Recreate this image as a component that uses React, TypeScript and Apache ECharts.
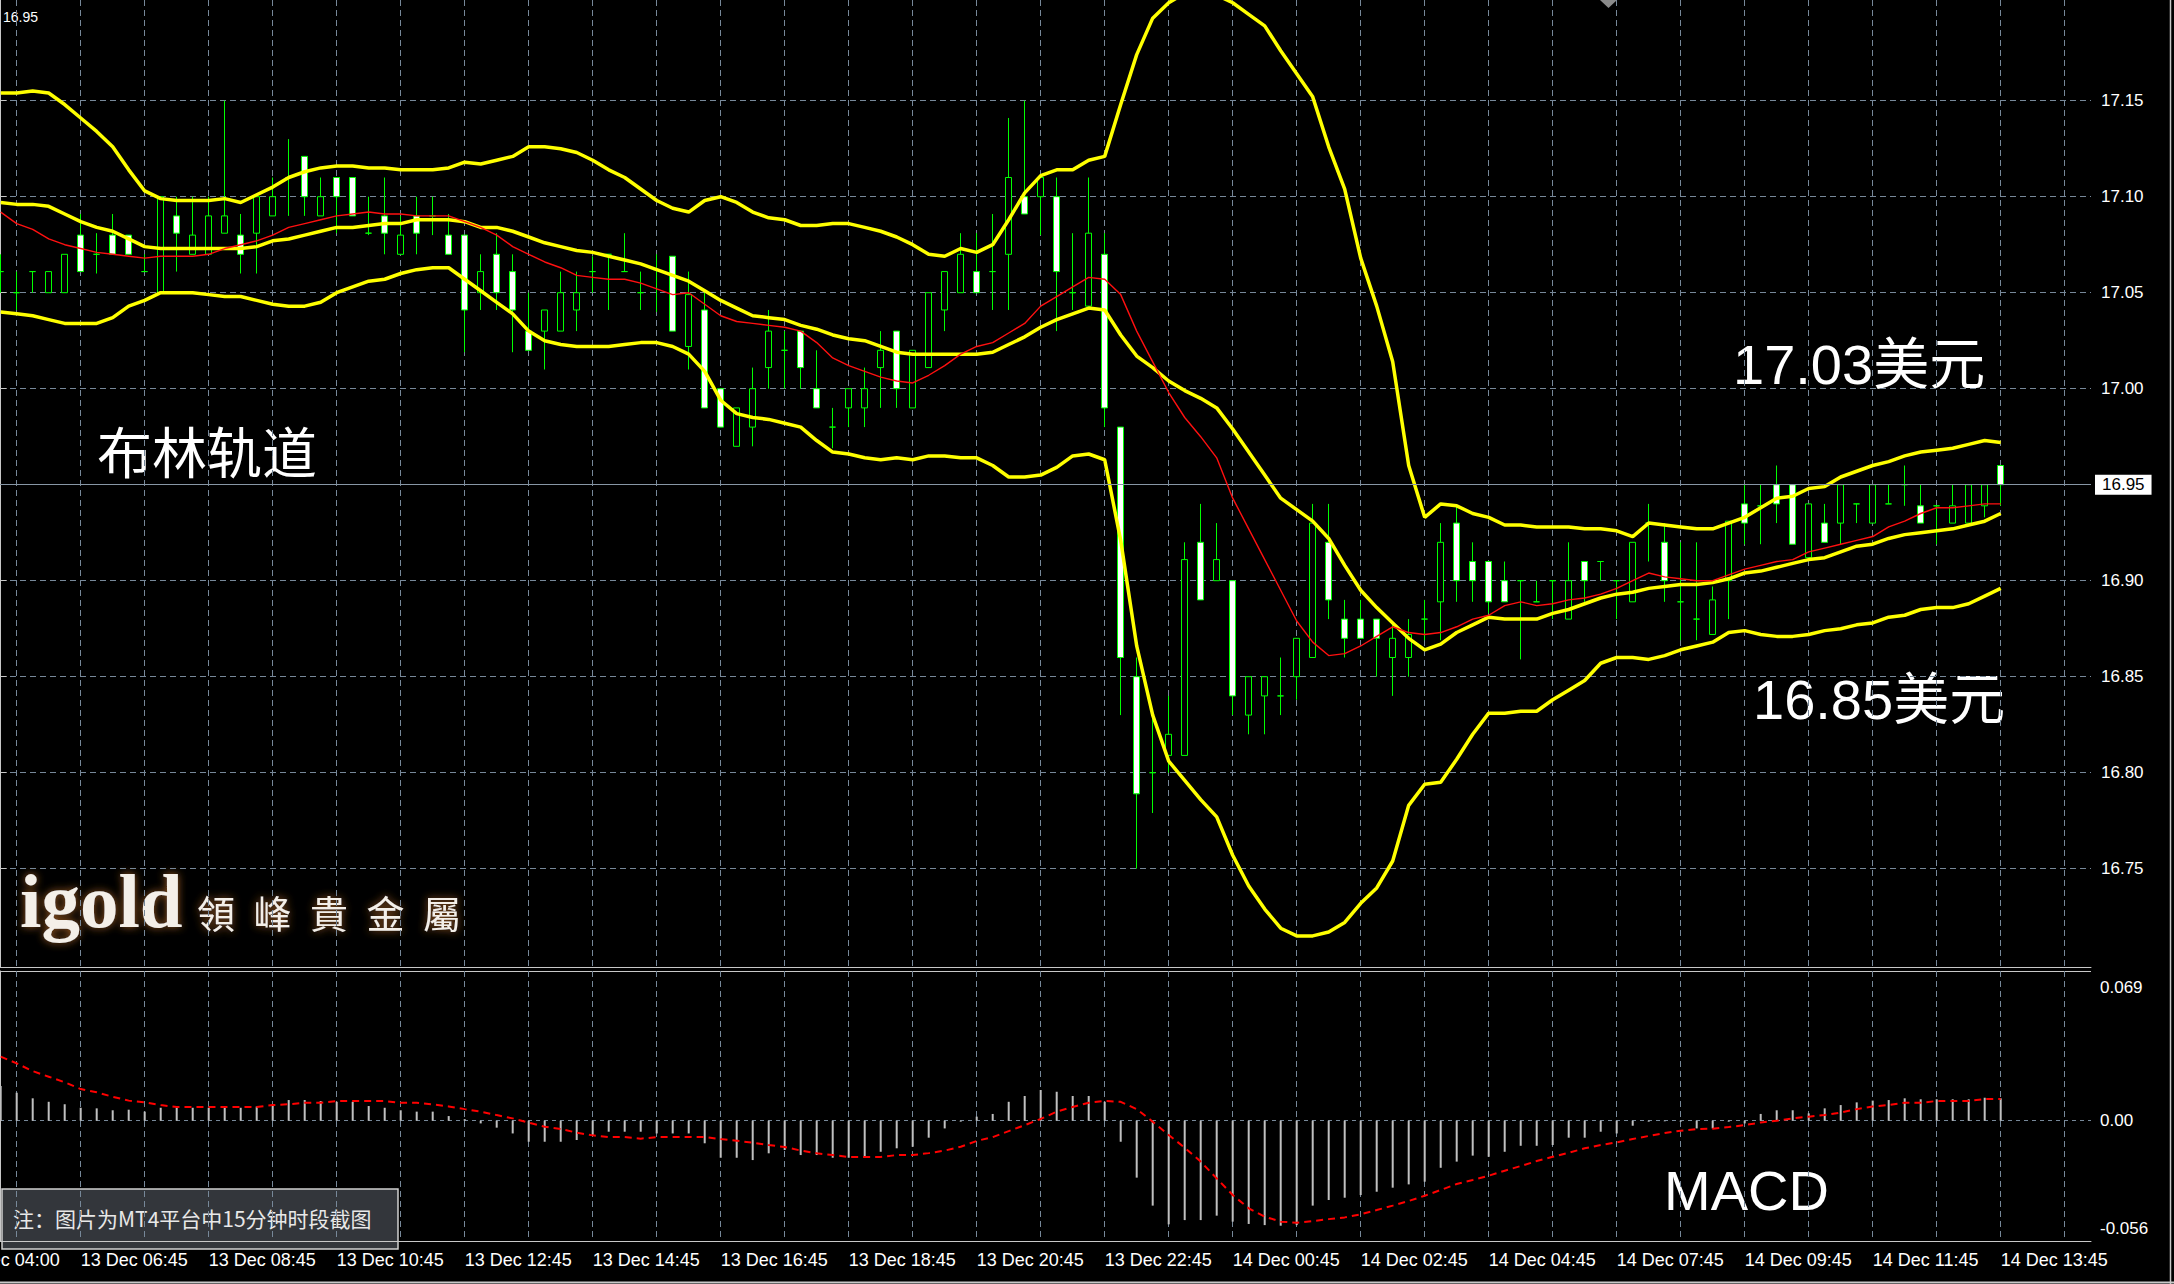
import { useEffect, useRef } from "react";
import * as echarts from "echarts";

// ---- XAG/USD, 15-minute bars (index 0..125) ----
const opens = [
  17.061, 17.050, 17.061, 17.050, 17.050, 17.080, 17.070, 17.080, 17.080, 17.061,
  17.050, 17.090, 17.070, 17.070, 17.081, 17.080, 17.081, 17.090, 17.110, 17.121,
  17.090, 17.110, 17.110, 17.081, 17.090, 17.070, 17.090, 17.090, 17.080, 17.080,
  17.050, 17.070, 17.061, 17.030, 17.030, 17.030, 17.041, 17.061, 17.070, 17.061,
  17.050, 17.062, 17.069, 17.022, 17.041, 17.000, 16.970, 16.980, 17.011, 17.020,
  17.030, 17.000, 16.980, 16.990, 16.990, 17.011, 17.030, 16.990, 17.011, 17.041,
  17.050, 17.061, 17.061, 17.070, 17.100, 17.100, 17.100, 17.050, 17.043, 17.070,
  16.980, 16.850, 16.800, 16.809, 16.809, 16.920, 16.900, 16.900, 16.830, 16.840,
  16.840, 16.850, 16.860, 16.920, 16.880, 16.880, 16.880, 16.860, 16.860, 16.880,
  16.889, 16.930, 16.910, 16.910, 16.900, 16.900, 16.889, 16.900, 16.880, 16.910,
  16.910, 16.900, 16.889, 16.930, 16.920, 16.889, 16.880, 16.872, 16.900, 16.940,
  16.939, 16.950, 16.950, 16.912, 16.930, 16.930, 16.940, 16.930, 16.940, 16.950,
  16.939, 16.939, 16.930, 16.930, 16.939, 16.960,
];
const closes = [
  17.061, 17.050, 17.061, 17.061, 17.070, 17.061, 17.070, 17.070, 17.070, 17.061,
  17.100, 17.081, 17.080, 17.090, 17.090, 17.070, 17.100, 17.100, 17.110, 17.100,
  17.100, 17.100, 17.090, 17.081, 17.081, 17.080, 17.081, 17.090, 17.070, 17.041,
  17.061, 17.050, 17.041, 17.020, 17.041, 17.050, 17.050, 17.061, 17.070, 17.061,
  17.050, 17.062, 17.030, 17.049, 16.990, 16.980, 16.990, 17.000, 17.030, 17.020,
  17.011, 16.990, 16.980, 17.000, 17.000, 17.020, 17.000, 17.020, 17.050, 17.061,
  17.070, 17.050, 17.061, 17.110, 17.091, 17.110, 17.061, 17.050, 17.081, 16.990,
  16.860, 16.789, 16.800, 16.820, 16.911, 16.890, 16.911, 16.840, 16.850, 16.850,
  16.840, 16.870, 16.930, 16.890, 16.870, 16.870, 16.870, 16.870, 16.872, 16.880,
  16.920, 16.900, 16.900, 16.889, 16.889, 16.900, 16.889, 16.900, 16.900, 16.900,
  16.910, 16.900, 16.920, 16.930, 16.900, 16.889, 16.880, 16.890, 16.931, 16.930,
  16.939, 16.940, 16.919, 16.940, 16.920, 16.950, 16.940, 16.950, 16.940, 16.950,
  16.930, 16.939, 16.939, 16.950, 16.950, 16.950,
];
const lows = [
  17.050, 17.041, 17.050, 17.050, 17.050, 17.061, 17.060, 17.070, 17.070, 17.061,
  17.050, 17.061, 17.070, 17.070, 17.081, 17.060, 17.060, 17.090, 17.090, 17.090,
  17.090, 17.081, 17.090, 17.080, 17.070, 17.070, 17.070, 17.080, 17.070, 17.019,
  17.041, 17.041, 17.019, 17.020, 17.010, 17.030, 17.030, 17.050, 17.041, 17.061,
  17.041, 17.040, 17.030, 17.010, 16.990, 16.980, 16.970, 16.970, 17.000, 17.000,
  17.000, 16.990, 16.969, 16.980, 16.980, 16.990, 16.990, 16.990, 17.011, 17.030,
  17.050, 17.050, 17.041, 17.041, 17.091, 17.080, 17.030, 17.041, 17.043, 16.980,
  16.830, 16.750, 16.779, 16.800, 16.809, 16.890, 16.900, 16.830, 16.820, 16.820,
  16.830, 16.838, 16.860, 16.880, 16.860, 16.870, 16.850, 16.840, 16.850, 16.869,
  16.869, 16.889, 16.889, 16.883, 16.889, 16.859, 16.889, 16.880, 16.880, 16.889,
  16.900, 16.880, 16.889, 16.910, 16.889, 16.869, 16.869, 16.872, 16.880, 16.919,
  16.919, 16.930, 16.919, 16.912, 16.920, 16.919, 16.930, 16.930, 16.940, 16.939,
  16.930, 16.919, 16.930, 16.930, 16.933, 16.939,
];
const highs = [
  17.070, 17.061, 17.061, 17.061, 17.070, 17.091, 17.081, 17.091, 17.080, 17.070,
  17.100, 17.100, 17.100, 17.100, 17.150, 17.091, 17.100, 17.110, 17.130, 17.121,
  17.110, 17.110, 17.110, 17.100, 17.110, 17.090, 17.100, 17.100, 17.091, 17.080,
  17.070, 17.081, 17.070, 17.050, 17.041, 17.061, 17.061, 17.069, 17.070, 17.081,
  17.061, 17.070, 17.069, 17.061, 17.050, 17.000, 16.990, 17.011, 17.041, 17.030,
  17.030, 17.020, 16.990, 17.000, 17.011, 17.030, 17.030, 17.020, 17.050, 17.061,
  17.081, 17.081, 17.091, 17.141, 17.150, 17.110, 17.110, 17.081, 17.110, 17.081,
  16.980, 16.860, 16.830, 16.840, 16.920, 16.940, 16.930, 16.900, 16.850, 16.850,
  16.860, 16.870, 16.940, 16.940, 16.890, 16.890, 16.880, 16.879, 16.880, 16.890,
  16.930, 16.939, 16.920, 16.910, 16.910, 16.900, 16.900, 16.900, 16.920, 16.910,
  16.910, 16.900, 16.920, 16.940, 16.930, 16.920, 16.920, 16.897, 16.931, 16.950,
  16.950, 16.960, 16.950, 16.940, 16.940, 16.950, 16.940, 16.950, 16.950, 16.960,
  16.950, 16.939, 16.950, 16.950, 16.950, 16.960,
];

// ---- Bollinger Bands and short moving average ----
const bbUpper = [
  17.154, 17.154, 17.155, 17.154, 17.148, 17.141, 17.134, 17.126, 17.114, 17.103,
  17.099, 17.098, 17.098, 17.098, 17.099, 17.097, 17.101, 17.105, 17.110, 17.113,
  17.115, 17.116, 17.116, 17.115, 17.115, 17.114, 17.114, 17.114, 17.115, 17.118,
  17.117, 17.119, 17.121, 17.126, 17.126, 17.125, 17.123, 17.119, 17.114, 17.110,
  17.104, 17.098, 17.094, 17.092, 17.098, 17.100, 17.097, 17.092, 17.089, 17.088,
  17.085, 17.085, 17.086, 17.086, 17.084, 17.082, 17.079, 17.075, 17.070, 17.069,
  17.073, 17.071, 17.075, 17.088, 17.102, 17.111, 17.114, 17.114, 17.119, 17.121,
  17.148, 17.174, 17.193, 17.201, 17.206, 17.207, 17.205, 17.201, 17.195, 17.189,
  17.176, 17.164, 17.152, 17.126, 17.104, 17.068, 17.043, 17.014, 16.960, 16.933,
  16.940, 16.939, 16.935, 16.933, 16.929, 16.929, 16.928, 16.928, 16.928, 16.927,
  16.927, 16.926, 16.923, 16.930, 16.929, 16.928, 16.927, 16.927, 16.930, 16.933,
  16.938, 16.943, 16.944, 16.948, 16.949, 16.954, 16.957, 16.960, 16.962, 16.965,
  16.967, 16.968, 16.969, 16.971, 16.973, 16.972,
];
const bbMiddle = [
  17.097, 17.096, 17.096, 17.095, 17.091, 17.087, 17.084, 17.082, 17.078, 17.074,
  17.073, 17.073, 17.073, 17.073, 17.073, 17.073, 17.074, 17.077, 17.078, 17.080,
  17.082, 17.084, 17.084, 17.085, 17.086, 17.086, 17.088, 17.088, 17.088, 17.087,
  17.084, 17.084, 17.082, 17.079, 17.076, 17.074, 17.072, 17.071, 17.069, 17.067,
  17.065, 17.062, 17.059, 17.056, 17.051, 17.046, 17.042, 17.038, 17.037, 17.036,
  17.033, 17.031, 17.028, 17.026, 17.025, 17.022, 17.019, 17.018, 17.018, 17.018,
  17.018, 17.018, 17.019, 17.023, 17.027, 17.032, 17.036, 17.039, 17.042, 17.041,
  17.028, 17.017, 17.011, 17.004, 16.999, 16.995, 16.990, 16.979, 16.967, 16.955,
  16.943, 16.937, 16.931, 16.922, 16.908, 16.895, 16.886, 16.878, 16.870, 16.864,
  16.867, 16.873, 16.877, 16.881, 16.880, 16.880, 16.880, 16.883, 16.885, 16.888,
  16.891, 16.893, 16.894, 16.896, 16.897, 16.898, 16.898, 16.899, 16.901, 16.904,
  16.905, 16.907, 16.909, 16.911, 16.912, 16.915, 16.918, 16.919, 16.922, 16.924,
  16.925, 16.926, 16.927, 16.929, 16.931, 16.935,
];
const bbLower = [
  17.040, 17.039, 17.038, 17.036, 17.034, 17.034, 17.034, 17.037, 17.043, 17.046,
  17.050, 17.050, 17.050, 17.049, 17.048, 17.048, 17.046, 17.044, 17.043, 17.043,
  17.045, 17.050, 17.053, 17.056, 17.057, 17.060, 17.062, 17.063, 17.063, 17.057,
  17.051, 17.045, 17.039, 17.030, 17.025, 17.023, 17.022, 17.022, 17.022, 17.023,
  17.024, 17.024, 17.022, 17.018, 17.009, 16.994, 16.987, 16.985, 16.984, 16.982,
  16.980, 16.973, 16.967, 16.966, 16.964, 16.963, 16.964, 16.963, 16.965, 16.965,
  16.964, 16.964, 16.960, 16.954, 16.954, 16.955, 16.959, 16.965, 16.966, 16.963,
  16.921, 16.866, 16.830, 16.806, 16.796, 16.786, 16.777, 16.757, 16.741, 16.729,
  16.719, 16.715, 16.715, 16.717, 16.722, 16.732, 16.740, 16.754, 16.783, 16.794,
  16.795, 16.807, 16.820, 16.831, 16.831, 16.832, 16.832, 16.838, 16.843, 16.848,
  16.857, 16.860, 16.860, 16.859, 16.861, 16.864, 16.866, 16.868, 16.873, 16.874,
  16.872, 16.871, 16.871, 16.872, 16.874, 16.875, 16.877, 16.878, 16.881, 16.882,
  16.885, 16.886, 16.886, 16.888, 16.892, 16.896,
];
const maShort = [
  17.092, 17.086, 17.083, 17.078, 17.075, 17.073, 17.071, 17.070, 17.069, 17.068,
  17.069, 17.069, 17.069, 17.070, 17.073, 17.075, 17.077, 17.080, 17.084, 17.086,
  17.088, 17.090, 17.091, 17.092, 17.091, 17.091, 17.090, 17.090, 17.090, 17.087,
  17.084, 17.080, 17.074, 17.070, 17.066, 17.063, 17.059, 17.058, 17.057, 17.057,
  17.055, 17.052, 17.049, 17.050, 17.044, 17.038, 17.035, 17.034, 17.033, 17.032,
  17.030, 17.024, 17.016, 17.012, 17.009, 17.006, 17.004, 17.003, 17.007, 17.012,
  17.018, 17.022, 17.024, 17.029, 17.034, 17.043, 17.048, 17.053, 17.058, 17.057,
  17.049, 17.030, 17.014, 16.998, 16.985, 16.975, 16.964, 16.943, 16.927, 16.911,
  16.895, 16.879, 16.868, 16.861, 16.862, 16.866, 16.871, 16.876, 16.873, 16.872,
  16.873, 16.876, 16.880, 16.882, 16.887, 16.889, 16.887, 16.888, 16.890, 16.891,
  16.893, 16.896, 16.900, 16.904, 16.902, 16.901, 16.900, 16.900, 16.903, 16.906,
  16.908, 16.910, 16.911, 16.915, 16.917, 16.919, 16.921, 16.923, 16.928, 16.931,
  16.935, 16.938, 16.938, 16.939, 16.940, 16.940,
];

// ---- MACD: main line (histogram) and signal ----
const macdMain = [
  0.0180, 0.0145, 0.0116, 0.0098, 0.0085, 0.0067, 0.0064, 0.0054, 0.0057, 0.0047,
  0.0067, 0.0067, 0.0067, 0.0067, 0.0067, 0.0067, 0.0073, 0.0081, 0.0107, 0.0107,
  0.0102, 0.0098, 0.0098, 0.0076, 0.0067, 0.0054, 0.0047, 0.0047, 0.0024, 0.0008,
  -0.0014, -0.0036, -0.0066, -0.0109, -0.0109, -0.0109, -0.0100, -0.0074, -0.0057, -0.0057,
  -0.0057, -0.0066, -0.0066, -0.0066, -0.0117, -0.0192, -0.0192, -0.0204, -0.0169, -0.0152,
  -0.0178, -0.0178, -0.0192, -0.0192, -0.0192, -0.0161, -0.0143, -0.0135, -0.0088, -0.0040,
  -0.0005, 0.0021, 0.0035, 0.0098, 0.0128, 0.0159, 0.0150, 0.0128, 0.0128, 0.0098,
  -0.0109, -0.0295, -0.0440, -0.0537, -0.0515, -0.0515, -0.0492, -0.0523, -0.0535, -0.0541,
  -0.0544, -0.0541, -0.0440, -0.0411, -0.0399, -0.0385, -0.0368, -0.0347, -0.0330, -0.0316,
  -0.0244, -0.0212, -0.0181, -0.0187, -0.0161, -0.0130, -0.0130, -0.0126, -0.0088, -0.0088,
  -0.0057, -0.0066, -0.0026, -0.0005, -0.0003, -0.0005, -0.0040, -0.0040, -0.0005, -0.0014,
  0.0035, 0.0054, 0.0054, 0.0038, 0.0064, 0.0081, 0.0095, 0.0104, 0.0107, 0.0116,
  0.0111, 0.0111, 0.0111, 0.0111, 0.0119, 0.0116,
];
const macdSignal = [
  0.0332, 0.0297, 0.0257, 0.0228, 0.0199, 0.0164, 0.0147, 0.0124, 0.0104, 0.0095,
  0.0081, 0.0071, 0.0071, 0.0071, 0.0071, 0.0071, 0.0071, 0.0081, 0.0085, 0.0093,
  0.0093, 0.0102, 0.0102, 0.0102, 0.0102, 0.0093, 0.0093, 0.0085, 0.0074, 0.0060,
  0.0047, 0.0029, 0.0012, -0.0010, -0.0031, -0.0043, -0.0062, -0.0076, -0.0085, -0.0085,
  -0.0093, -0.0085, -0.0085, -0.0085, -0.0085, -0.0095, -0.0104, -0.0114, -0.0126, -0.0136,
  -0.0155, -0.0169, -0.0178, -0.0188, -0.0188, -0.0188, -0.0178, -0.0178, -0.0168, -0.0155,
  -0.0135, -0.0105, -0.0085, -0.0054, -0.0023, 0.0009, 0.0047, 0.0071, 0.0093, 0.0102,
  0.0098, 0.0060, -0.0005, -0.0074, -0.0140, -0.0212, -0.0299, -0.0385, -0.0454, -0.0497,
  -0.0523, -0.0529, -0.0520, -0.0510, -0.0501, -0.0485, -0.0463, -0.0440, -0.0416, -0.0389,
  -0.0359, -0.0328, -0.0307, -0.0285, -0.0259, -0.0235, -0.0209, -0.0187, -0.0166, -0.0143,
  -0.0126, -0.0112, -0.0095, -0.0079, -0.0064, -0.0052, -0.0043, -0.0042, -0.0033, -0.0023,
  -0.0009, 0.0000, 0.0012, 0.0021, 0.0029, 0.0042, 0.0060, 0.0073, 0.0081, 0.0093,
  0.0093, 0.0102, 0.0102, 0.0102, 0.0112, 0.0112,
];

// ---- scales ----
const timeLabelBars = [-3, 5, 13, 21, 29, 37, 45, 53, 61, 69, 77, 85, 93, 101, 109, 117, 125];
const timeLabels = [
  "13 Dec 04:00", "13 Dec 06:45", "13 Dec 08:45", "13 Dec 10:45", "13 Dec 12:45",
  "13 Dec 14:45", "13 Dec 16:45", "13 Dec 18:45", "13 Dec 20:45", "13 Dec 22:45",
  "14 Dec 00:45", "14 Dec 02:45", "14 Dec 04:45", "14 Dec 07:45", "14 Dec 09:45",
  "14 Dec 11:45", "14 Dec 13:45",
];
const priceTicks = [16.75, 16.8, 16.85, 16.9, 16.95, 17.0, 17.05, 17.1, 17.15];
const macdScaleLabels = [0.069, 0.0, -0.056];
const logoChars = ["領", "峰", "貴", "金", "屬"];

// ---- layout ----
const W = 2174;
const H = 1284;
const PLOT_W = 2091;
const MAIN_H = 967;
const MACD_TOP = 971;
const MACD_H = 270;
const BAR_PX = 16;
const X_MIN = -0.7 / BAR_PX;
const X_MAX = X_MIN + PLOT_W / BAR_PX;
const P_MAX = 17.15 + 100.7 / 1920;
const P_MIN = P_MAX - MAIN_H / 1920;
const M_MAX = (1120.7 - MACD_TOP) / 1930;
const M_MIN = (1120.7 - (MACD_TOP + MACD_H)) / 1930;

const GREEN = "#00ff00";
const GRID = "#778899";
const FRAME = "#c8c8c8";
const SANS = '"Liberation Sans", "Noto Sans CJK SC", sans-serif';
const CJK = '"Noto Sans CJK SC", sans-serif';

const xPix = (k: number) => ((k - X_MIN) / (X_MAX - X_MIN)) * PLOT_W;

export default function App() {
  const ref = useRef<HTMLDivElement>(null);

  useEffect(() => {
    const el = ref.current;
    if (!el) return;
    const chart = echarts.init(el, undefined, { renderer: "svg" });

    const candles = opens.map((o, k) => [k, o, closes[k], lows[k], highs[k]]);
    const pair = (arr: number[]) => arr.map((v, k) => [k, v]);
    const bid = closes[closes.length - 1];

    const gridBars: number[] = [];
    for (let k = 1; k < X_MAX; k += 4) gridBars.push(k);
    const visibleTimeBars = timeLabelBars.filter((k) => k >= X_MIN);

    const dashed = { color: GRID, type: [6, 4] as any, width: 1 };
    const bandLine = (name: string, arr: number[]) => ({
      name,
      type: "line",
      xAxisIndex: 0,
      yAxisIndex: 0,
      data: pair(arr),
      symbol: "none",
      silent: true,
      z: 4,
      lineStyle: { color: "#ffff00", width: 3.5 },
    });

    const logoText = (text: string, x: number, y: number, font: string) => ({
      type: "text",
      x,
      y,
      silent: true,
      style: {
        text,
        font,
        fill: "#f4efe8",
        align: "left",
        verticalAlign: "middle",
        shadowColor: "#9a5a22",
        shadowBlur: 8,
        textShadowColor: "#9a5a22",
        textShadowBlur: 8,
      },
    });

    const option: any = {
      animation: false,
      backgroundColor: "#000000",
      grid: [
        { left: 0, top: 0, width: PLOT_W, height: MAIN_H },
        { left: 0, top: MACD_TOP, width: PLOT_W, height: MACD_H },
      ],
      xAxis: [
        {
          type: "value",
          gridIndex: 0,
          min: X_MIN,
          max: X_MAX,
          axisLine: { show: true, onZero: false, lineStyle: { color: FRAME, width: 1 } },
          axisTick: { show: false, customValues: gridBars },
          axisLabel: { show: false },
          splitLine: { show: true, lineStyle: dashed },
        },
        {
          type: "value",
          gridIndex: 1,
          min: X_MIN,
          max: X_MAX,
          axisLine: { show: true, onZero: false, lineStyle: { color: FRAME, width: 1 } },
          axisTick: { show: false, customValues: gridBars },
          axisLabel: {
            show: true,
            customValues: visibleTimeBars,
            formatter: (v: number) => {
              const i = timeLabelBars.indexOf(Math.round(v));
              return i >= 0 ? timeLabels[i] : "";
            },
            color: "#ffffff",
            fontFamily: SANS,
            fontSize: 18,
            align: "left",
            margin: 10,
          },
          splitLine: { show: true, lineStyle: dashed },
        },
      ],
      yAxis: [
        {
          type: "value",
          gridIndex: 0,
          position: "right",
          min: P_MIN,
          max: P_MAX,
          axisLine: { show: true, lineStyle: { color: FRAME, width: 1 } },
          axisTick: { show: true, length: 6, customValues: priceTicks, lineStyle: { color: FRAME } },
          axisLabel: {
            customValues: priceTicks,
            formatter: (v: number) => v.toFixed(2),
            color: "#ffffff",
            fontFamily: SANS,
            fontSize: 17,
            margin: 10,
          },
          splitLine: { show: true, lineStyle: dashed },
        },
        {
          type: "value",
          gridIndex: 1,
          position: "right",
          min: M_MIN,
          max: M_MAX,
          axisLine: { show: true, lineStyle: { color: FRAME, width: 1 } },
          axisTick: { show: false, customValues: [0] },
          axisLabel: {
            customValues: macdScaleLabels,
            formatter: (v: number) => (Math.abs(v) < 1e-9 ? "0.00" : v.toFixed(3)),
            color: "#ffffff",
            fontFamily: SANS,
            fontSize: 17,
            margin: 9,
          },
          splitLine: { show: true, lineStyle: { color: GRID, type: [4, 4], width: 1 } },
        },
      ],
      series: [
        {
          name: "XAGUSD",
          type: "candlestick",
          xAxisIndex: 0,
          yAxisIndex: 0,
          data: candles,
          barWidth: 7,
          z: 3,
          silent: true,
          itemStyle: {
            color: "#000000",
            color0: "#ffffff",
            borderColor: GREEN,
            borderColor0: GREEN,
            borderColorDoji: GREEN,
            borderWidth: 1,
          },
          markLine: {
            silent: true,
            symbol: ["none", "none"],
            lineStyle: { color: "#8796a5", type: "solid", width: 1 },
            label: {
              show: true,
              position: "end",
              formatter: bid.toFixed(2),
              backgroundColor: "#ffffff",
              color: "#000000",
              fontFamily: SANS,
              fontSize: 17,
              padding: [2, 7, 1, 7],
              distance: 4,
            },
            data: [{ yAxis: bid }],
          },
        },
        bandLine("BB upper", bbUpper),
        bandLine("BB middle", bbMiddle),
        bandLine("BB lower", bbLower),
        {
          name: "MA",
          type: "line",
          xAxisIndex: 0,
          yAxisIndex: 0,
          data: pair(maShort),
          symbol: "none",
          silent: true,
          z: 5,
          lineStyle: { color: "#ff1010", width: 1.4 },
        },
        {
          name: "MACD",
          type: "bar",
          xAxisIndex: 1,
          yAxisIndex: 1,
          data: pair(macdMain),
          barWidth: 2,
          silent: true,
          itemStyle: { color: "#c0c0c0" },
        },
        {
          name: "Signal",
          type: "line",
          xAxisIndex: 1,
          yAxisIndex: 1,
          data: pair(macdSignal),
          symbol: "none",
          silent: true,
          z: 4,
          lineStyle: { color: "#ff0000", width: 2, type: [7, 5] },
        },
      ],
      graphic: [
        // panel separators and window border
        { type: "line", silent: true, shape: { x1: 0, y1: MACD_TOP + 0.5, x2: PLOT_W, y2: MACD_TOP + 0.5 }, style: { stroke: FRAME, lineWidth: 1 } },
        { type: "line", silent: true, shape: { x1: W - 3.5, y1: 0, x2: W - 3.5, y2: H }, style: { stroke: FRAME, lineWidth: 1.5 } },
        { type: "line", silent: true, shape: { x1: 0, y1: H - 1.5, x2: W, y2: H - 1.5 }, style: { stroke: FRAME, lineWidth: 2 } },
        // chart-shift marker
        { type: "polygon", silent: true, shape: { points: [[1600, 0], [1617, 0], [1608.5, 8]] }, style: { fill: "#8a8a8a" } },
        // header value
        { type: "text", x: 3, y: 17, silent: true, style: { text: bid.toFixed(2), font: `14px ${SANS}`, fill: "#ffffff", align: "left", verticalAlign: "middle" } },
        // first (partly hidden) time label
        { type: "text", x: xPix(timeLabelBars[0]), y: MACD_TOP + MACD_H + 10, silent: true, style: { text: timeLabels[0], font: `18px ${SANS}`, fill: "#ffffff", align: "left", verticalAlign: "top" } },
        // annotations
        { type: "text", x: 97, y: 449, silent: true, style: { text: "布林轨道", font: `55px ${CJK}`, fill: "#ffffff", align: "left", verticalAlign: "middle" } },
        { type: "text", x: 1733, y: 364, silent: true, style: { text: "17.03美元", font: `56px ${SANS}`, fill: "#ffffff", align: "left", verticalAlign: "middle" } },
        { type: "text", x: 1753, y: 699, silent: true, style: { text: "16.85美元", font: `56px ${SANS}`, fill: "#ffffff", align: "left", verticalAlign: "middle" } },
        { type: "text", x: 1664, y: 1190, silent: true, style: { text: "MACD", font: `56px ${SANS}`, fill: "#ffffff", align: "left", verticalAlign: "middle" } },
        // logo
        logoText("igold", 20, 901, `bold 77px "Liberation Serif", serif`),
        ...logoChars.map((c, i) => logoText(c, 197 + i * 56.5, 911, `38px "Noto Sans CJK TC", sans-serif`)),
        // note box
        {
          type: "rect",
          silent: true,
          shape: { x: 2, y: 1189, width: 396, height: 60 },
          style: { fill: "#33363b", stroke: "#d0d0d0", lineWidth: 1.5 },
        },
        { type: "text", x: 13, y: 1218, silent: true, style: { text: "注：图片为MT4平台中15分钟时段截图", font: `21px ${CJK}`, fill: "#e8e8e8", align: "left", verticalAlign: "middle" } },
      ],
    };

    chart.setOption(option);
    return () => chart.dispose();
  }, []);

  return (
    <div
      ref={ref}
      style={{ position: "fixed", left: 0, top: 0, width: W, height: H, background: "#000" }}
    />
  );
}
